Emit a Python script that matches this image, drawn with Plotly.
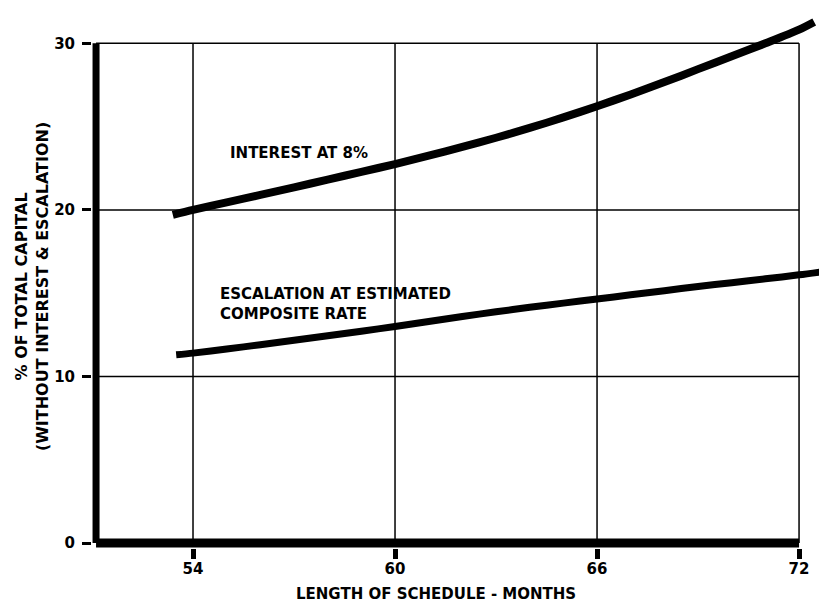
import plotly.graph_objects as go

# ---- data ----
interest_x = [53.4, 54, 55, 56, 57, 58, 59, 60, 61, 62, 63, 64, 65, 66, 67, 68, 69, 70, 71, 72, 72.45]
interest_y = [19.7, 20.0, 20.45, 20.9, 21.35, 21.82, 22.28, 22.75, 23.25, 23.78, 24.33, 24.92, 25.55, 26.22,
              26.93, 27.67, 28.45, 29.22, 30.0, 30.82, 31.28]

escal_x = [53.5, 54, 55, 56, 57, 58, 59, 60, 61, 62, 63, 64, 65, 66, 67, 68, 69, 70, 71, 72, 72.85]
escal_y = [11.3, 11.4, 11.65, 11.9, 12.17, 12.44, 12.71, 13.0, 13.3, 13.6, 13.88, 14.15, 14.4, 14.65,
           14.9, 15.15, 15.4, 15.63, 15.86, 16.1, 16.33]

x_ticks = [54, 60, 66, 72]
x_tick_labels = ["54", "60", "66", "72"]
y_ticks = [0, 10, 20, 30]
y_tick_labels = ["0", "10", "20", "30"]

x_axis_start = 51.12
x_title = "LENGTH OF SCHEDULE - MONTHS"
y_title = "% OF TOTAL CAPITAL<br>(WITHOUT INTEREST & ESCALATION)"
label_interest = "INTEREST AT 8%"
label_escal = "ESCALATION AT ESTIMATED<br>COMPOSITE RATE"

FONT = "DejaVu Sans, Arial, sans-serif"

fig = go.Figure()
fig.add_trace(go.Scatter(x=interest_x, y=interest_y, mode="lines",
                         line=dict(color="black", width=8, shape="spline", smoothing=0.8),
                         showlegend=False, hoverinfo="skip"))
fig.add_trace(go.Scatter(x=escal_x, y=escal_y, mode="lines",
                         line=dict(color="black", width=7, shape="spline", smoothing=0.8),
                         showlegend=False, hoverinfo="skip"))

shapes = []
# vertical grid lines
for xv in x_ticks:
    shapes.append(dict(type="line", xref="x", yref="y", x0=xv, x1=xv, y0=0, y1=y_ticks[-1],
                       line=dict(color="black", width=1.5), layer="below"))
# horizontal grid lines
for yv in y_ticks[1:]:
    shapes.append(dict(type="line", xref="x", yref="y", x0=x_axis_start, x1=x_ticks[-1], y0=yv, y1=yv,
                       line=dict(color="black", width=1.5), layer="below"))
# thick axes
shapes.append(dict(type="line", xref="x", yref="y", x0=x_axis_start, x1=x_axis_start, y0=0, y1=y_ticks[-1],
                   line=dict(color="black", width=7), layer="below"))
shapes.append(dict(type="line", xref="x", yref="y", x0=x_axis_start, x1=x_ticks[-1], y0=0, y1=0,
                   line=dict(color="black", width=9), layer="below"))

annotations = [
    dict(x=55.04, y=23.4, xref="x", yref="y", text="<b>" + label_interest + "</b>", showarrow=False,
         xanchor="left", yanchor="middle", font=dict(family=FONT, size=15, color="black")),
    dict(x=54.74, y=14.37, xref="x", yref="y", text="<b>" + label_escal + "</b>", showarrow=False,
         xanchor="left", yanchor="middle", align="left",
         font=dict(family=FONT, size=15, color="black")),
    dict(x=0.468, y=-0.085, xref="paper", yref="paper", text="<b>" + x_title + "</b>", showarrow=False,
         xanchor="center", yanchor="middle", font=dict(family=FONT, size=15, color="black")),
    dict(x=-0.0816, y=0.485, xref="paper", yref="paper", text="<b>" + y_title + "</b>", showarrow=False,
         textangle=-90, xanchor="center", yanchor="middle",
         font=dict(family=FONT, size=16, color="black")),
]

fig.update_layout(
    width=819, height=595,
    margin=dict(l=84, r=0, t=2, b=55),
    paper_bgcolor="white", plot_bgcolor="white",
    shapes=shapes, annotations=annotations,
    xaxis=dict(range=[51.0, 72.83], tickmode="array", tickvals=x_ticks, ticktext=x_tick_labels,
               showgrid=False, zeroline=False, showline=False,
               ticks="outside", ticklen=10, tickwidth=5, tickcolor="black",
               ticklabelstandoff=-3,
               tickfont=dict(family=FONT, size=15, color="black", weight="bold")),
    yaxis=dict(range=[-0.3, 32.0], tickmode="array", tickvals=y_ticks, ticktext=y_tick_labels,
               showgrid=False, zeroline=False, showline=False,
               ticks="outside", ticklen=9, tickwidth=3, tickcolor="black",
               ticklabelstandoff=4,
               tickfont=dict(family=FONT, size=15, color="black", weight="bold")),
)

fig.write_html("out.html")
